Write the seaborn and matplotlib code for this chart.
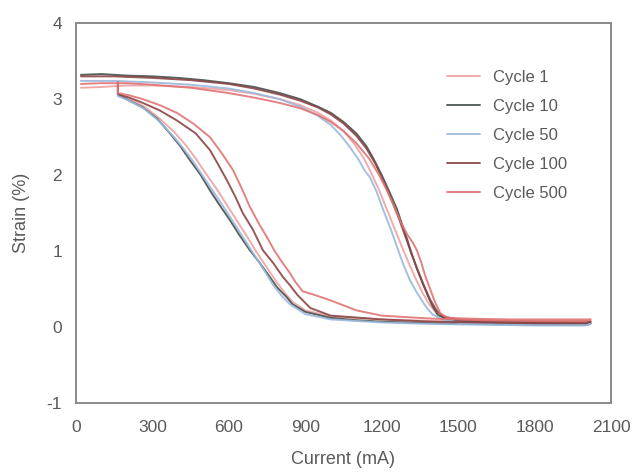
import matplotlib
matplotlib.use("Agg")
import matplotlib.pyplot as plt
import seaborn as sns

# Strain vs. actuation current for selected cycles (heating, then cooling)
cycle1_current = [20, 100, 200, 300, 450, 600, 700, 800, 880, 950, 1000, 1050, 1090, 1130, 1160, 1190,
                  1220, 1250, 1280, 1305, 1330, 1360, 1390, 1420, 1450, 1500, 1600, 1800, 2000, 2020,
                  2000, 1800, 1600, 1400, 1200, 1000, 900, 850, 820, 790, 750, 710, 670, 630, 590,
                  550, 510, 470, 430, 385, 330, 270, 210, 165, 165]
cycle1_strain = [3.15, 3.16, 3.18, 3.18, 3.16, 3.12, 3.07, 3.00, 2.92, 2.82, 2.72, 2.58, 2.42, 2.22, 2.02, 1.80,
                 1.55, 1.30, 1.05, 0.85, 0.66, 0.45, 0.28, 0.17, 0.12, 0.10, 0.09, 0.08, 0.08, 0.08,
                 0.06, 0.06, 0.07, 0.08, 0.10, 0.14, 0.22, 0.33, 0.45, 0.58, 0.78, 0.98, 1.20, 1.41, 1.62,
                 1.83, 2.02, 2.22, 2.40, 2.57, 2.74, 2.90, 3.00, 3.06, 3.20]

cycle10_current = [20, 100, 200, 300, 400, 500, 600, 700, 800, 880, 950, 1000, 1050, 1100, 1140, 1170,
                   1200, 1230, 1260, 1280, 1300, 1320, 1340, 1360, 1380, 1400, 1420, 1450, 1500, 1600,
                   1700, 1800, 1900, 2000, 2020,
                   2000, 1800, 1600, 1400, 1200, 1100, 1000, 900, 850, 828, 790, 761, 720, 683, 640,
                   604, 565, 526, 490, 447, 410, 369, 320, 263, 210, 165, 165]
cycle10_strain = [3.32, 3.33, 3.31, 3.30, 3.28, 3.25, 3.21, 3.16, 3.08, 3.00, 2.90, 2.82, 2.70, 2.55, 2.38, 2.20,
                  2.00, 1.78, 1.55, 1.35, 1.15, 0.94, 0.75, 0.58, 0.42, 0.27, 0.16, 0.11, 0.08, 0.06,
                  0.05, 0.05, 0.04, 0.04, 0.05,
                  0.03, 0.03, 0.04, 0.05, 0.07, 0.09, 0.12, 0.20, 0.30, 0.39, 0.52, 0.66, 0.85, 1.01, 1.22,
                  1.41, 1.60, 1.80, 2.00, 2.20, 2.38, 2.55, 2.74, 2.89, 2.98, 3.06, 3.22]

cycle50_current = [20, 150, 300, 450, 600, 700, 800, 880, 950, 1000, 1040, 1075, 1110, 1135, 1154, 1180,
                   1205, 1232, 1255, 1283, 1310, 1335, 1350, 1375, 1401, 1440, 1500, 1600, 1800, 2000, 2020,
                   2000, 1800, 1600, 1400, 1200, 1000, 900, 840, 810, 775, 740, 700, 660, 620, 580,
                   540, 500, 460, 420, 380, 330, 270, 210, 165, 165]
cycle50_strain = [3.24, 3.24, 3.22, 3.19, 3.14, 3.08, 3.00, 2.90, 2.78, 2.66, 2.52, 2.37, 2.20, 2.05, 1.97, 1.78,
                  1.55, 1.32, 1.10, 0.84, 0.62, 0.47, 0.39, 0.26, 0.16, 0.10, 0.06, 0.04, 0.03, 0.03, 0.04,
                  0.02, 0.02, 0.03, 0.04, 0.06, 0.10, 0.17, 0.30, 0.40, 0.55, 0.74, 0.95, 1.16, 1.37, 1.58,
                  1.78, 1.98, 2.18, 2.36, 2.52, 2.70, 2.87, 2.98, 3.04, 3.20]

cycle100_current = [20, 150, 300, 450, 600, 700, 800, 880, 950, 1000, 1050, 1100, 1140, 1175, 1210, 1240,
                    1265, 1290, 1315, 1340, 1365, 1390, 1415, 1440, 1500, 1600, 1800, 2000, 2020,
                    2000, 1800, 1600, 1400, 1200, 1000, 920, 870, 840, 812, 775, 734, 695, 655, 625,
                    593, 560, 526, 470, 396, 330, 263, 210, 165, 165]
cycle100_strain = [3.30, 3.30, 3.28, 3.25, 3.20, 3.14, 3.06, 2.98, 2.89, 2.80, 2.68, 2.52, 2.35, 2.15, 1.90, 1.66,
                   1.45, 1.22, 0.98, 0.76, 0.55, 0.36, 0.22, 0.14, 0.10, 0.08, 0.07, 0.06, 0.07,
                   0.05, 0.05, 0.06, 0.07, 0.10, 0.15, 0.25, 0.42, 0.55, 0.66, 0.84, 1.01, 1.28, 1.50, 1.72,
                   1.93, 2.13, 2.33, 2.55, 2.72, 2.85, 2.95, 3.02, 3.07, 3.22]

cycle500_current = [20, 100, 200, 300, 450, 600, 700, 800, 880, 950, 1000, 1050, 1100, 1150, 1190, 1220,
                    1250, 1275, 1300, 1320, 1338, 1355, 1370, 1390, 1410, 1430, 1460, 1550, 1700, 1850, 2020,
                    2000, 1800, 1600, 1400, 1200, 1100, 1000, 930, 890, 860, 840, 812, 780, 750, 715,
                    683, 650, 616, 570, 526, 460, 396, 330, 263, 210, 165, 165]
cycle500_strain = [3.20, 3.21, 3.21, 3.19, 3.15, 3.08, 3.02, 2.95, 2.88, 2.79, 2.70, 2.58, 2.42, 2.22, 2.00, 1.80,
                   1.58, 1.38, 1.22, 1.12, 1.01, 0.85, 0.68, 0.50, 0.32, 0.18, 0.12, 0.11, 0.10, 0.10, 0.10,
                   0.08, 0.08, 0.09, 0.11, 0.15, 0.22, 0.35, 0.43, 0.47, 0.60, 0.71, 0.84, 1.00, 1.18, 1.38,
                   1.58, 1.83, 2.07, 2.30, 2.50, 2.68, 2.82, 2.92, 3.00, 3.05, 3.08, 3.22]

cycle_labels = ["Cycle 1", "Cycle 10", "Cycle 50", "Cycle 100", "Cycle 500"]
cycle_colors = ["#eda3a3", "#46504e", "#9bb9dc", "#8c4545", "#e07474"]

x_ticks = [0, 300, 600, 900, 1200, 1500, 1800, 2100]
y_ticks = [-1, 0, 1, 2, 3, 4]

sns.set_style("white")
plt.rcParams["font.family"] = ["Liberation Sans", "DejaVu Sans"]

text_color = "#5a5a5a"
frame_color = "#8a8a8a"

fig = plt.figure(figsize=(6.32, 4.73), dpi=100)
ax = fig.add_axes([0.120, 0.148, 0.847, 0.803])

series = [
    (cycle1_current, cycle1_strain),
    (cycle10_current, cycle10_strain),
    (cycle50_current, cycle50_strain),
    (cycle100_current, cycle100_strain),
    (cycle500_current, cycle500_strain),
]
for (cur, strain), label, color in zip(series, cycle_labels, cycle_colors):
    sns.lineplot(x=cur, y=strain, sort=False, estimator=None, color=color,
                 linewidth=1.4, alpha=0.9, label=label, ax=ax)

ax.set_xlim(0, 2100)
ax.set_ylim(-1, 4)
ax.set_xticks(x_ticks)
ax.set_yticks(y_ticks)
ax.set_xticklabels([str(t) for t in x_ticks])
ax.set_yticklabels([str(t) for t in y_ticks])
ax.tick_params(direction="in", length=3, width=0.8, color=frame_color,
               labelcolor=text_color, labelsize=12.5)
ax.tick_params(axis="x", pad=12)
ax.tick_params(axis="y", pad=10)
for spine in ax.spines.values():
    spine.set_color(frame_color)
    spine.set_linewidth(1.4)

ax.set_xlabel("Current (mA)", fontsize=13, color=text_color, labelpad=12)
ax.set_ylabel("Strain (%)", fontsize=13, color=text_color, labelpad=12)

leg = ax.legend(loc="upper left", bbox_to_anchor=(0.693, 0.878), frameon=False,
                borderaxespad=0, borderpad=0, fontsize=12, labelspacing=0.85,
                handlelength=2.0, handletextpad=0.75)
for t in leg.get_texts():
    t.set_color(text_color)

fig.savefig("out.png", dpi=100)
